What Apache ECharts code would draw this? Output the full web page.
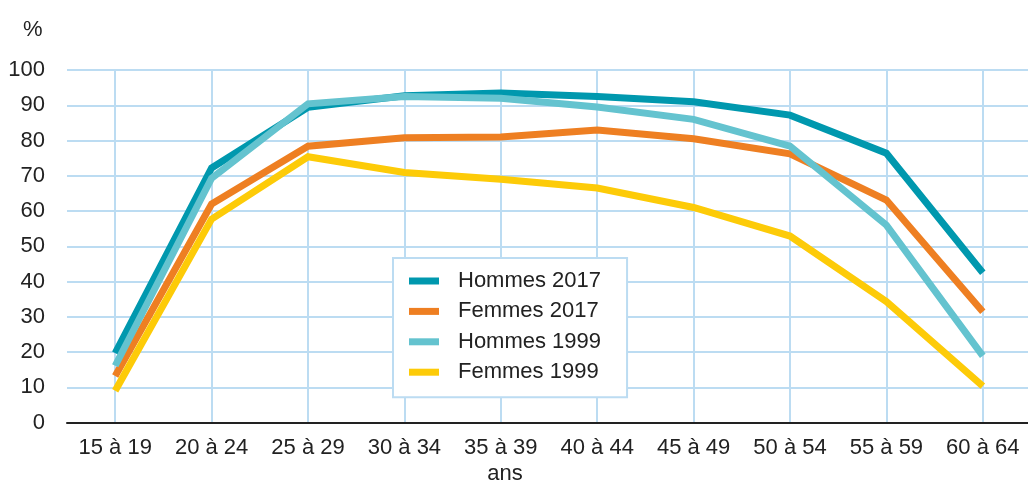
<!DOCTYPE html>
<html>
<head>
<meta charset="utf-8">
<script src="https://cdn.jsdelivr.net/npm/echarts@6/dist/echarts.min.js"></script>
<style>
  html, body { margin: 0; padding: 0; background: #fff; }
  #main { width: 1028px; height: 483px; }
</style>
</head>
<body>
<div id="main"></div>
<script>
// tranches d'âge
var ages = ['15 à 19', '20 à 24', '25 à 29', '30 à 34', '35 à 39', '40 à 44', '45 à 49', '50 à 54', '55 à 59', '60 à 64'];

// taux d'activité (%)
var hommes2017 = [19.7, 72.2, 89.4, 92.7, 93.5, 92.5, 91, 87.2, 76.4, 42.5];
var femmes2017 = [13.2, 62, 78.4, 80.8, 81, 83, 80.5, 76.2, 63.1, 31.4];
var hommes1999 = [16.1, 69.3, 90.4, 92.5, 92, 89.5, 86, 78.4, 56, 18.9];
var femmes1999 = [9, 57.7, 75.4, 70.9, 69, 66.5, 61, 52.9, 34.3, 10.3];

var font = '"Liberation Sans", Arial, sans-serif';
var gridColor = '#bcdcf2';
var txt = '#222';

var chart = echarts.init(document.getElementById('main'));

function serie(name, data, color) {
    return {
        name: name,
        type: 'line',
        data: data,
        symbol: 'none',
        itemStyle: { color: color },
        lineStyle: { color: color, width: 7, cap: 'butt', join: 'miter' },
        emphasis: { disabled: true }
    };
}

chart.setOption({
    animation: false,
    textStyle: { fontFamily: font },
    title: {
        text: '%',
        left: 18,
        top: 14,
        textStyle: { fontFamily: font, fontSize: 22, fontWeight: 'normal', color: txt }
    },
    grid: { left: 67, right: -3, top: 70, bottom: 60.5, containLabel: false, outerBoundsMode: 'none' },
    legend: {
        orient: 'vertical',
        left: 393,
        top: 258,
        padding: [12, 26, 14, 16],
        itemGap: 8.4,
        itemWidth: 30,
        itemHeight: 7,
        icon: 'rect',
        backgroundColor: '#fff',
        borderColor: gridColor,
        borderWidth: 2,
        textStyle: { fontFamily: font, fontSize: 22, color: txt, padding: [0, 0, 0, 14] },
        data: ['Hommes 2017', 'Femmes 2017', 'Hommes 1999', 'Femmes 1999']
    },
    xAxis: {
        type: 'category',
        data: ages,
        boundaryGap: true,
        name: 'ans',
        nameLocation: 'middle',
        nameGap: 40.5,
        nameTextStyle: { fontFamily: font, fontSize: 22, color: txt, padding: [0, 88, 0, 0] },
        axisLine: { lineStyle: { color: txt, width: 2 } },
        axisTick: { show: false },
        axisLabel: { interval: 0, fontFamily: font, fontSize: 22, color: txt, margin: 14 },
        splitLine: { show: true, interval: 0, alignWithLabel: true, lineStyle: { color: gridColor, width: 2 } }
    },
    yAxis: {
        type: 'value',
        min: 0,
        max: 100,
        interval: 10,
        axisLine: { show: false },
        axisTick: { show: false },
        axisLabel: { fontFamily: font, fontSize: 22, color: txt, margin: 22, padding: [0, 0, 8, 0] },
        splitLine: { lineStyle: { color: gridColor, width: 2 } }
    },
    series: [
        serie('Hommes 2017', hommes2017, '#0098ae'),
        serie('Femmes 2017', femmes2017, '#ee7f22'),
        serie('Hommes 1999', hommes1999, '#64c3cf'),
        serie('Femmes 1999', femmes1999, '#fdcb08')
    ]
});
</script>
</body>
</html>
